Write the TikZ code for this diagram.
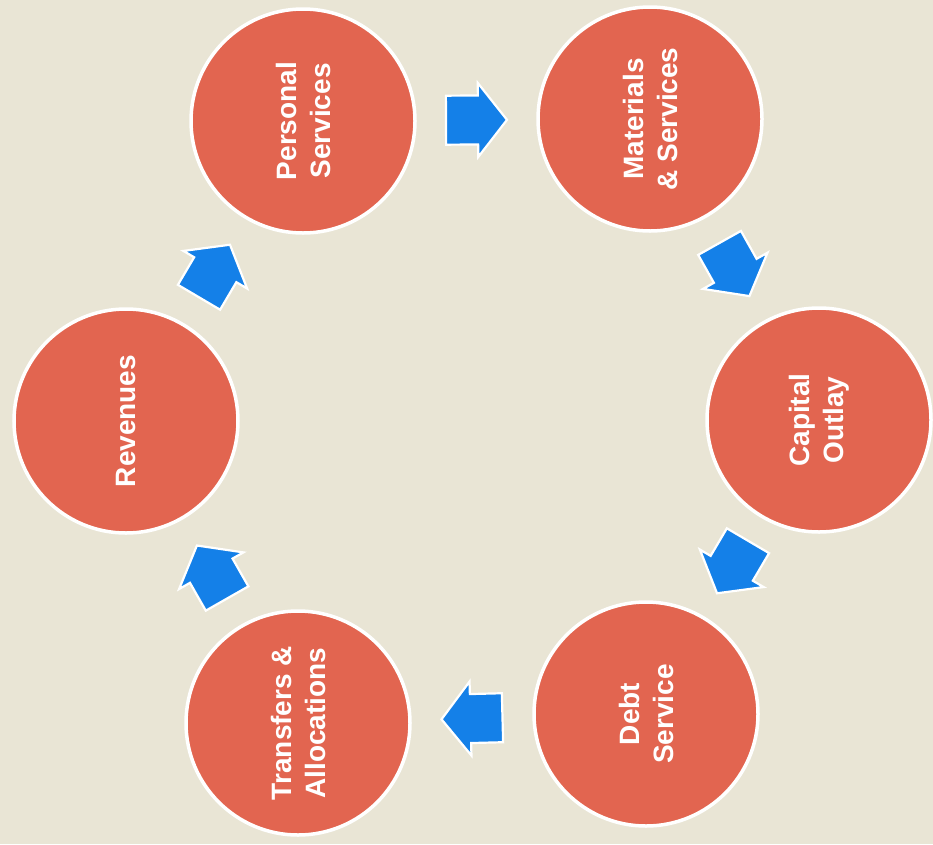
\documentclass[tikz,border=0pt]{standalone}
\usepackage{fontspec}
\setmainfont{Liberation Sans}
\usetikzlibrary{calc}
\definecolor{bgbeige}{RGB}{233,229,213}
\definecolor{disc}{RGB}{226,101,80}
\definecolor{arrowblue}{RGB}{20,128,232}
\tikzset{
  budget/.style={circle, fill=disc, draw=white, line width=3.5pt,
    minimum size=224pt, inner sep=0pt, text=white, align=center,
    font=\bfseries\fontsize{28}{34}\selectfont},
  label/.style={rotate=90, align=center, text=white, inner sep=0pt,
    font=\bfseries\fontsize{28}{34}\selectfont},
  blockarrow/.pic={
    \draw[fill=arrowblue, draw=white, line width=2.2pt, line join=miter]
      (-30.5,-24.5) -- (1.5,-24.5) -- (1.5,-37) -- (30.5,0) --
      (1.5,37) -- (1.5,24.5) -- (-30.5,24.5) -- cycle;
  }
}
\newcommand{\flowarrow}[2]{%
  \path let \p1=($(#2)-(#1)$), \n1={atan2(\y1,\x1)} in
    ($(#1)!0.5!(#2)$) pic[rotate=\n1] {blockarrow};%
}
\begin{document}
\begin{tikzpicture}[x=1pt,y=-1pt]
\fill[bgbeige] (0,0) rectangle (933,844);
\useasboundingbox (0,0) rectangle (933,844);

\node[budget] (ps) at (303,121) {};
\node[budget] (ms) at (650,119) {};
\node[budget] (co) at (819,420) {};
\node[budget] (ds) at (646,714) {};
\node[budget] (ta) at (298,723) {};
\node[budget] (rv) at (126,421) {};

\node[label] (tps) at (ps) {Personal\\Services};
\node[label] (tms) at (ms) {Materials\\\& Services};
\node[label] (tco) at (co) {Capital\\Outlay};
\node[label] (tds) at (ds) {Debt\\Service};
\node[label] (tta) at (ta) {Transfers \&\\Allocations};
\node[label] (trv) at (rv) {Revenues};

\flowarrow{ps}{ms}
\flowarrow{ms}{co}
\flowarrow{co}{ds}
\flowarrow{ds}{ta}
\flowarrow{ta}{rv}
\flowarrow{rv}{ps}
\end{tikzpicture}
\end{document}
